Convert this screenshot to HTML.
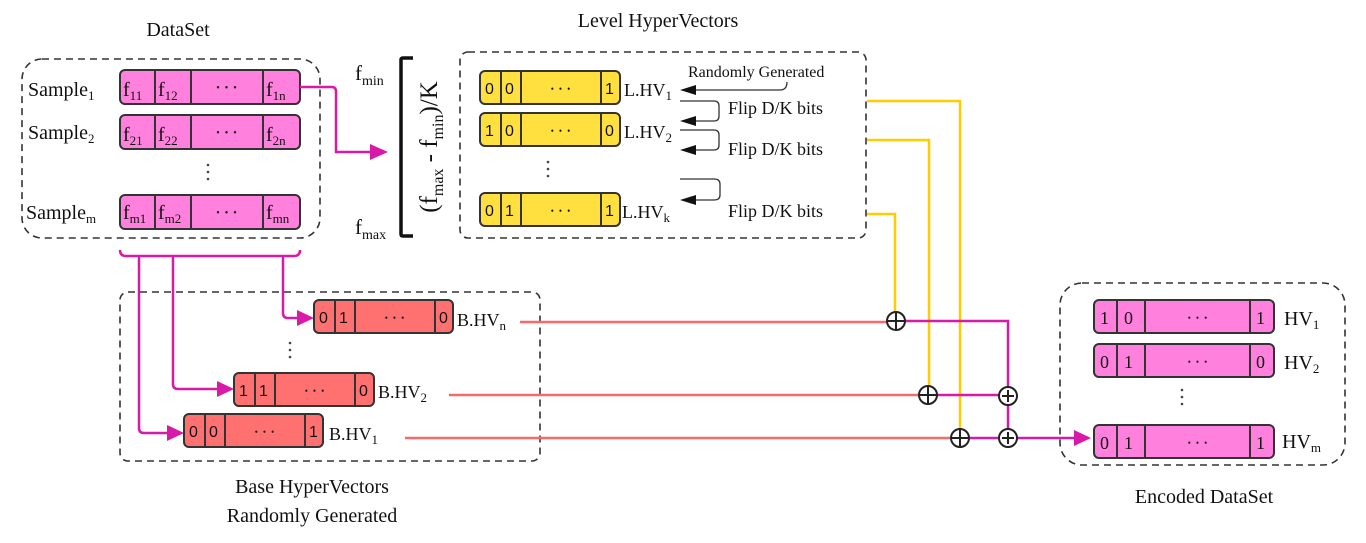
<!DOCTYPE html>
<html><head><meta charset="utf-8"><style>
body{margin:0;background:#fff}
svg{display:block}
text{font-family:"Liberation Serif",serif;fill:#111}
.s{font-family:"Liberation Sans",sans-serif}
</style></head><body>
<svg width="1366" height="543" viewBox="0 0 1366 543" xmlns="http://www.w3.org/2000/svg">
<g fill="none" stroke="#333" stroke-width="1.6" stroke-dasharray="7,5">
<rect x="22" y="59" width="298" height="179" rx="20"/>
<rect x="460" y="52" width="406" height="186" rx="8"/>
<rect x="120" y="292" width="420" height="169" rx="8"/>
<rect x="1060" y="283" width="285" height="182" rx="22"/>
</g>
<g font-size="20" text-anchor="middle">
<text x="178" y="36">DataSet</text>
<text x="658" y="27">Level HyperVectors</text>
<text x="312" y="493">Base HyperVectors</text>
<text x="312" y="522">Randomly Generated</text>
<text x="1204" y="503">Encoded DataSet</text>
</g>
<g stroke="#333" stroke-width="2" fill="#ff80dd">
<rect x="120" y="70" width="180" height="34" rx="5"/>
<rect x="120" y="115" width="180" height="34" rx="5"/>
<rect x="120" y="195" width="180" height="34" rx="5"/>
<path d="M155 70v34M191 70v34M263 70v34M155 115v34M191 115v34M263 115v34M155 195v34M191 195v34M263 195v34" fill="none"/>
</g>
<g font-size="20">
<text x="28" y="96">Sample<tspan font-size="13" dy="4">1</tspan></text>
<text x="28" y="139">Sample<tspan font-size="13" dy="4">2</tspan></text>
<text x="26" y="219">Sample<tspan font-size="13" dy="4">m</tspan></text>
<text x="123" y="96">f<tspan font-size="13" dy="4">11</tspan></text><text x="158" y="96">f<tspan font-size="13" dy="4">12</tspan></text><text x="266" y="96">f<tspan font-size="13" dy="4">1n</tspan></text>
<text x="123" y="141">f<tspan font-size="13" dy="4">21</tspan></text><text x="158" y="141">f<tspan font-size="13" dy="4">22</tspan></text><text x="266" y="141">f<tspan font-size="13" dy="4">2n</tspan></text>
<text x="123" y="219">f<tspan font-size="13" dy="4">m1</tspan></text><text x="158" y="219">f<tspan font-size="13" dy="4">m2</tspan></text><text x="266" y="219">f<tspan font-size="13" dy="4">mn</tspan></text>
</g>
<g font-size="10" text-anchor="middle" letter-spacing="5">
<text x="229" y="91">•••</text><text x="229" y="136">•••</text><text x="229" y="216">•••</text>
</g>
<g fill="#444"><circle cx="208" cy="165" r="1.3"/><circle cx="208" cy="172" r="1.3"/><circle cx="208" cy="179" r="1.3"/></g>
<path d="M300 87H332Q336 87 336 92V152H378" fill="none" stroke="#d81aa8" stroke-width="2.5"/>
<path d="M370 144L388 152L370 160z" fill="#d81aa8"/>
<path d="M413 58H403Q401 58 401 60V234Q401 236 403 236H413" fill="none" stroke="#111" stroke-width="3.5"/>
<g font-size="21">
<text x="355" y="80">f<tspan font-size="14" dy="5">min</tspan></text>
<text x="355" y="234">f<tspan font-size="14" dy="5">max</tspan></text>
</g>
<text transform="translate(437,147) rotate(-90)" font-size="25" text-anchor="middle">(f<tspan font-size="16" dy="6">max</tspan><tspan dy="-6"> - f</tspan><tspan font-size="16" dy="6">min</tspan><tspan dy="-6">)/K</tspan></text>
<g stroke="#333" stroke-width="2" fill="#ffe03f">
<rect x="480" y="71" width="140" height="33" rx="5"/>
<rect x="480" y="113" width="140" height="33" rx="5"/>
<rect x="480" y="193" width="140" height="33" rx="5"/>
<path d="M501 71v33M521 71v33M601 71v33M501 113v33M521 113v33M601 113v33M501 193v33M521 193v33M601 193v33" fill="none"/>
</g>
<g font-size="16">
<text class="s" x="485" y="94">0</text><text class="s" x="505" y="94">0</text><text class="s" x="605" y="94">1</text>
<text class="s" x="485" y="136">1</text><text class="s" x="505" y="136">0</text><text class="s" x="605" y="136">0</text>
<text class="s" x="485" y="216">0</text><text class="s" x="505" y="216">1</text><text class="s" x="605" y="216">1</text>
</g>
<g font-size="9" text-anchor="middle" letter-spacing="5"><text x="563" y="92">•••</text><text x="563" y="134">•••</text><text x="563" y="214">•••</text></g>
<g fill="#444"><circle cx="548" cy="162" r="1.3"/><circle cx="548" cy="169" r="1.3"/><circle cx="548" cy="176" r="1.3"/></g>
<g font-size="18">
<text x="624" y="96">L.HV<tspan font-size="13" dy="4">1</tspan></text>
<text x="624" y="138">L.HV<tspan font-size="13" dy="4">2</tspan></text>
<text x="622" y="218">L.HV<tspan font-size="13" dy="4">k</tspan></text>
</g>
<text x="688" y="77" font-size="16">Randomly Generated</text>
<g font-size="18"><text x="728" y="114">Flip D/K bits</text><text x="728" y="155">Flip D/K bits</text><text x="728" y="217">Flip D/K bits</text></g>
<g fill="none" stroke="#333" stroke-width="1.3">
<path d="M787 82Q787 90 780 90H694"/>
<path d="M680 101H714Q719 101 719 106V116Q719 121 714 121H694"/>
<path d="M680 130H714Q719 130 719 135V145Q719 150 714 150H694"/>
<path d="M680 179H714Q720 179 720 184V195Q720 200 714 200H694"/>
</g>
<g fill="#111"><path d="M680 90L696 85V95z"/><path d="M680 121L696 116V126z"/><path d="M680 150L696 145V155z"/><path d="M680 200L696 195V205z"/></g>
<g fill="none" stroke="#ffcc00" stroke-width="2.5">
<path d="M867 101H960V429"/><path d="M867 140H929V386"/><path d="M867 214H895V312"/>
</g>
<path d="M120 250Q120 256 126 256H294Q300 256 300 250" fill="none" stroke="#d81aa8" stroke-width="2.5"/>
<g fill="none" stroke="#d81aa8" stroke-width="2.5">
<path d="M139 256V428Q139 433 144 433H175"/><path d="M173 256V384Q173 389 178 389H225"/><path d="M283 256V313Q283 318 288 318H305"/>
</g>
<g fill="#d81aa8"><path d="M167 425L184 433L167 441z"/><path d="M217 381L234 389L217 397z"/><path d="M297 310L314 318L297 326z"/></g>
<g stroke="#333" stroke-width="2" fill="#ff7070">
<rect x="314" y="300" width="139" height="33" rx="5"/>
<rect x="234" y="373" width="140" height="33" rx="5"/>
<rect x="184" y="414" width="139" height="33" rx="5"/>
<path d="M335 300v33M355 300v33M435 300v33M255 373v33M275 373v33M355 373v33M205 414v33M225 414v33M305 414v33" fill="none"/>
</g>
<g font-size="16">
<text class="s" x="319" y="323">0</text><text class="s" x="339" y="323">1</text><text class="s" x="439" y="323">0</text>
<text class="s" x="239" y="396">1</text><text class="s" x="259" y="396">1</text><text class="s" x="359" y="396">0</text>
<text class="s" x="189" y="437">0</text><text class="s" x="209" y="437">0</text><text class="s" x="309" y="437">1</text>
</g>
<g font-size="9" text-anchor="middle" letter-spacing="5"><text x="397" y="321">•••</text><text x="317" y="394">•••</text><text x="267" y="435">•••</text></g>
<g fill="#444"><circle cx="290" cy="343" r="1.3"/><circle cx="290" cy="350" r="1.3"/><circle cx="290" cy="357" r="1.3"/></g>
<g font-size="18">
<text x="457" y="326">B.HV<tspan font-size="13" dy="4">n</tspan></text>
<text x="378" y="398">B.HV<tspan font-size="13" dy="4">2</tspan></text>
<text x="329" y="440">B.HV<tspan font-size="13" dy="4">1</tspan></text>
</g>
<g stroke="#f86a6a" stroke-width="2.5"><path d="M520 322H888M449 395H920M405 438H952"/></g>
<g fill="none" stroke="#d81aa8" stroke-width="2.5">
<path d="M905 321H1008V429M937 395H999M969 438H999M1017 438H1078"/>
</g>
<path d="M1074 430L1091 438L1074 446z" fill="#d81aa8"/>
<g fill="#fff" stroke="#222" stroke-width="2">
<circle cx="896" cy="321" r="9"/><circle cx="928" cy="395" r="9"/><circle cx="960" cy="438" r="9"/>
<circle cx="1008" cy="396" r="9"/><circle cx="1008" cy="438" r="9"/>
<path d="M887 321h18M896 312v18M919 395h18M928 386v18M951 438h18M960 429v18M1002 396h12M1008 390v12M1002 438h12M1008 432v12"/>
</g>
<g stroke="#333" stroke-width="2" fill="#ff80dd">
<rect x="1094" y="300" width="180" height="33" rx="5"/>
<rect x="1094" y="344" width="180" height="33" rx="5"/>
<rect x="1094" y="425" width="180" height="33" rx="5"/>
<path d="M1117 300v33M1145 300v33M1250 300v33M1117 344v33M1145 344v33M1250 344v33M1117 425v33M1145 425v33M1250 425v33" fill="none"/>
</g>
<g font-size="18">
<text x="1100" y="324">1</text><text x="1124" y="324">0</text><text x="1256" y="324">1</text>
<text x="1100" y="368">0</text><text x="1124" y="368">1</text><text x="1256" y="368">0</text>
<text x="1100" y="449">0</text><text x="1124" y="449">1</text><text x="1256" y="449">1</text>
</g>
<g font-size="9" text-anchor="middle" letter-spacing="5"><text x="1200" y="321">•••</text><text x="1200" y="365">•••</text><text x="1200" y="446">•••</text></g>
<g fill="#444"><circle cx="1182" cy="390" r="1.3"/><circle cx="1182" cy="397" r="1.3"/><circle cx="1182" cy="404" r="1.3"/></g>
<g font-size="20">
<text x="1284" y="325">HV<tspan font-size="13" dy="4">1</tspan></text>
<text x="1284" y="369">HV<tspan font-size="13" dy="4">2</tspan></text>
<text x="1282" y="448">HV<tspan font-size="13" dy="4">m</tspan></text>
</g>
</svg>
</body></html>
